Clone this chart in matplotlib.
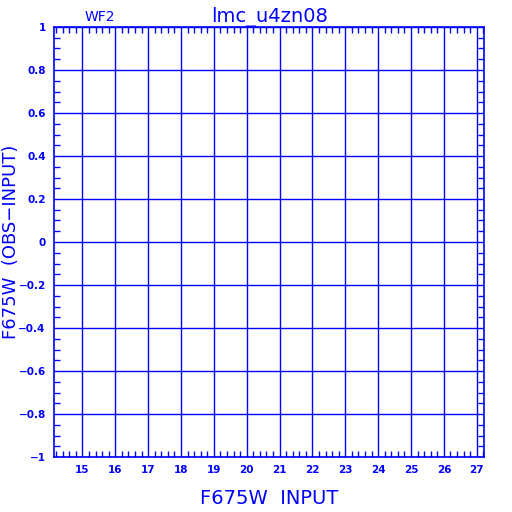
import matplotlib
matplotlib.use("Agg")
import matplotlib.pyplot as plt
from matplotlib.ticker import MultipleLocator

blue = "#0000ff"

x_ticks = [15, 16, 17, 18, 19, 20, 21, 22, 23, 24, 25, 26, 27]
y_ticks = [-1, -0.8, -0.6, -0.4, -0.2, 0, 0.2, 0.4, 0.6, 0.8, 1]
y_labels = ["\u22121", "\u22120.8", "\u22120.6", "\u22120.4", "\u22120.2", "0",
            "0.2", "0.4", "0.6", "0.8", "1"]
x_lim = (14.135, 27.22)
y_lim = (-1, 1)

fig = plt.figure(figsize=(5.12, 5.12), dpi=100)
ax = fig.add_axes([54 / 512, 1 - 457 / 512, 430 / 512, 430 / 512])
ax.set_xlim(*x_lim)
ax.set_ylim(*y_lim)

ax.set_xticks(x_ticks)
ax.set_xticklabels([str(t) for t in x_ticks])
ax.set_yticks(y_ticks)
ax.set_yticklabels(y_labels)
ax.xaxis.set_minor_locator(MultipleLocator(0.2))
ax.yaxis.set_minor_locator(MultipleLocator(0.05))

ax.grid(True, which="major", color=blue, linewidth=1.0)
ax.tick_params(which="both", direction="in", colors=blue, top=True, right=True,
               labelsize=7.5, width=1)
ax.tick_params(which="major", length=0, pad=6)
ax.tick_params(which="minor", length=4)
for lab in ax.get_xticklabels() + ax.get_yticklabels():
    lab.set_fontweight("bold")
for s in ax.spines.values():
    s.set_color(blue)
    s.set_linewidth(1.2)

ax.set_xlabel("F675W  INPUT", color=blue, fontsize=14, labelpad=10)
fig.text(11 / 512, 1 - 242 / 512, "F675W  (OBS\u2212INPUT)", color=blue,
         fontsize=13, rotation=90, ha="center", va="center")
fig.text(270 / 512, 1 - 17 / 512, "lmc_u4zn08", color=blue, fontsize=14,
         ha="center", va="center")
fig.text(100 / 512, 1 - 17 / 512, "WF2", color=blue, fontsize=10,
         ha="center", va="center")

fig.savefig("out.png", dpi=100)
